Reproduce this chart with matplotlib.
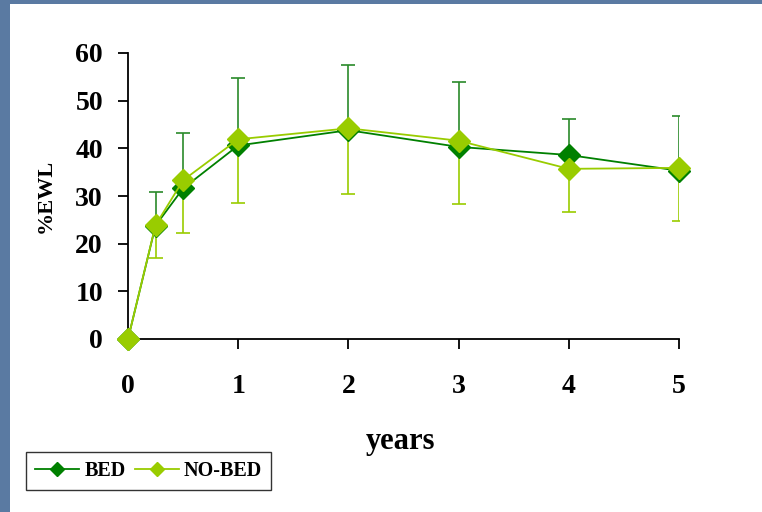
"""
%EWL over time, BED vs NO-BED.
"""

import matplotlib.pyplot as plt
from matplotlib.patches import Rectangle

years = [0, 0.25, 0.5, 1, 2, 3, 4, 5]

bed = [0, 23.8, 31.6, 40.6, 43.8, 40.3, 38.6, 35.3]
bed_err = [0, 7.0, 11.6, 14.1, 13.7, 13.6, 7.5, 11.5]

nobed = [0, 23.9, 33.3, 41.9, 44.2, 41.6, 35.7, 35.9]
nobed_err = [0, 6.9, 11.1, 13.4, 13.8, 13.3, 9.1, 11.1]

xticks = [0, 1, 2, 3, 4, 5]
yticks = [0, 10, 20, 30, 40, 50, 60]

plt.rcParams['font.family'] = 'Liberation Serif'
plt.rcParams['font.weight'] = 'bold'

fig = plt.figure(figsize=(7.62, 5.12), dpi=100)
fig.patch.set_facecolor('#5a7aa2')
fig.patches.append(Rectangle((10 / 762, 0), 1, (512 - 4) / 512,
                             transform=fig.transFigure, facecolor='white',
                             edgecolor='none', zorder=-1))

ax = fig.add_axes([128 / 762, (512 - 339) / 512, 551 / 762, 286 / 512])
ax.set_facecolor('none')

dark = '#008000'
light = '#99cc00'

# error bars: BED upper only, NO-BED lower only
ax.errorbar(years[1:], bed[1:], yerr=[[0] * 7, bed_err[1:]], fmt='none',
            ecolor='#2a8a2a', elinewidth=1.2, capsize=5, capthick=1.2,
            zorder=2)
ax.errorbar(years[1:], nobed[1:], yerr=[nobed_err[1:], [0] * 7],
            fmt='none', ecolor=light, elinewidth=1.2, capsize=5,
            capthick=1.2, zorder=2)

ax.plot(years, bed, color=dark, linewidth=1.3, marker='D', markersize=11,
        markerfacecolor=dark, markeredgecolor=dark, label='BED',
        clip_on=False, zorder=3)
ax.plot(years, nobed, color=light, linewidth=1.3, marker='D',
        markersize=11, markerfacecolor=light, markeredgecolor=light,
        label='NO-BED', clip_on=False, zorder=4)

ax.set_xlim(0, 5)
ax.set_ylim(0, 60)
ax.set_xticks(xticks)
ax.set_yticks(yticks)
ax.tick_params(axis='x', labelsize=20, length=7, width=1.3, pad=18)
ax.tick_params(axis='y', labelsize=20, length=7, width=1.3, pad=11)

ax.spines['top'].set_visible(False)
ax.spines['right'].set_visible(False)
ax.spines['left'].set_linewidth(1.3)
ax.spines['bottom'].set_linewidth(1.3)

ax.set_xlabel('years', fontsize=22, fontweight='bold', va='baseline')
ax.xaxis.set_label_coords(0.495, -0.385)
ax.set_ylabel('%EWL', fontsize=16, fontweight='bold')
ax.yaxis.set_label_coords(-0.132, 0.5)

leg = ax.legend(loc='lower left', bbox_to_anchor=(26 / 762, 22 / 512),
                bbox_transform=fig.transFigure, ncol=2, fontsize=14.5,
                frameon=True, fancybox=False, edgecolor='black',
                handlelength=2.2, handletextpad=0.25, columnspacing=0.45,
                borderpad=0.45, borderaxespad=0, markerscale=0.65)
leg.get_frame().set_linewidth(1.0)

plt.savefig('out.png', dpi=100)
